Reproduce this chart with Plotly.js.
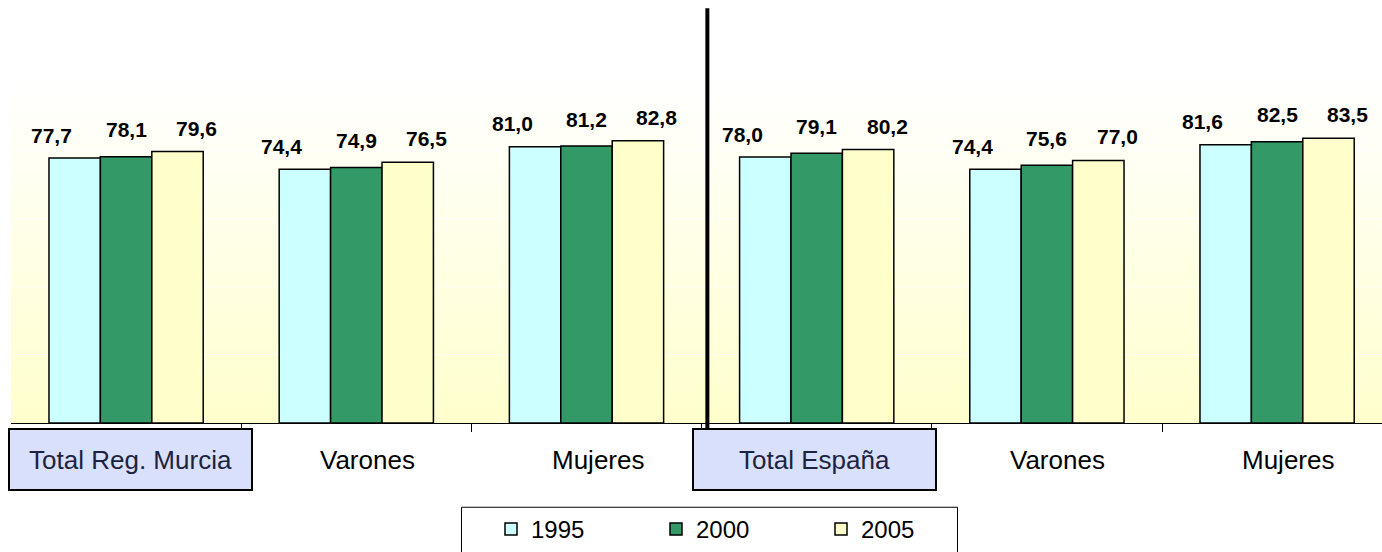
<!DOCTYPE html>
<html>
<head>
<meta charset="utf-8">
<script src="https://cdn.plot.ly/plotly-3.0.1.min.js"></script>
<style>
  html, body { margin: 0; padding: 0; background: #ffffff; }
  #wrap { position: relative; width: 1382px; height: 552px; background: #ffffff; overflow: hidden; }
  #bg { position: absolute; left: 11px; top: 82px; width: 1371px; height: 342px;
        background: linear-gradient(to bottom, #FFFFFF 0%, #FFFFCC 100%); }
  #chart { position: absolute; left: 0; top: 0; width: 1382px; height: 552px; }
</style>
</head>
<body>
<div id="wrap">
  <div id="bg"></div>
  <div id="chart"></div>
</div>
<script>
// ---- data ----
const categories = ['Total Reg. Murcia', 'Varones', 'Mujeres', 'Total España', 'Varones', 'Mujeres'];
const years = ['1995', '2000', '2005'];
const values1995 = [77.7, 74.4, 81.0, 78.0, 74.4, 81.6];
const values2000 = [78.1, 74.9, 81.2, 79.1, 75.6, 82.5];
const values2005 = [79.6, 76.5, 82.8, 80.2, 77.0, 83.5];

// ---- styling ----
const seriesValues = [values1995, values2000, values2005];
const seriesColors = ['#CCFFFF', '#339966', '#FFFFCC'];
const boxedCategories = [0, 3];
const labelXShift = [4, 11, 11, -2, 11, 11];
const valueLabelXShift = [-23, 0, 19];
const valueLabelYShift = [23, 27, 23.5];
const FONT = 'Liberation Sans, Arial, sans-serif';

const W = 1382, H = 552;
const M = { l: 11, r: 0, t: 82, b: 128 };
const plotW = W - M.l - M.r, plotH = H - M.t - M.b;
const catPx = 230.2;
const bargap = 0.33;
const barW = (1 - bargap) / years.length;
const px2paperX = p => (p - M.l) / plotW;
const px2paperY = p => (M.t + plotH - p) / plotH;

const xIdx = categories.map((_, i) => i);

const traces = years.map((yr, s) => ({
  type: 'bar',
  name: yr,
  x: xIdx,
  y: seriesValues[s],
  marker: { color: seriesColors[s], line: { color: '#000000', width: 1.5 } },
  hoverinfo: 'skip'
}));

const annotations = [];
// value labels
years.forEach((yr, s) => {
  seriesValues[s].forEach((v, i) => {
    annotations.push({
      x: i + (s - 1) * barW, xref: 'x',
      y: v, yref: 'y',
      text: '<b>' + v.toFixed(1).replace('.', ',') + '</b>',
      showarrow: false,
      xanchor: 'center', yanchor: 'middle',
      xshift: valueLabelXShift[s],
      yshift: valueLabelYShift[s],
      font: { family: FONT, size: 21, color: '#000000' }
    });
  });
});
// category labels
categories.forEach((c, i) => {
  const boxed = boxedCategories.includes(i);
  const a = {
    x: i, xref: 'x',
    y: px2paperY(461), yref: 'paper',
    text: c,
    showarrow: false,
    xanchor: 'center', yanchor: 'middle',
    xshift: labelXShift[i],
    font: { family: FONT, size: 26, color: boxed ? '#1C2340' : '#000000' }
  };
  if (boxed) {
    a.bgcolor = '#D9E0FB';
    a.bordercolor = '#000000';
    a.borderwidth = 2;
    a.borderpad = 0;
    a.width = 241;
    a.height = 59;
  }
  annotations.push(a);
});

const layout = {
  width: W, height: H,
  margin: M,
  paper_bgcolor: 'rgba(0,0,0,0)',
  plot_bgcolor: 'rgba(0,0,0,0)',
  font: { family: FONT, size: 20, color: '#000000' },
  barmode: 'group',
  bargap: bargap,
  bargroupgap: 0,
  showlegend: true,
  legend: {
    orientation: 'h',
    x: px2paperX(491), xanchor: 'left',
    y: px2paperY(508), yanchor: 'top',
    bgcolor: 'rgba(0,0,0,0)',
    borderwidth: 0,
    entrywidth: 120,
    entrywidthmode: 'pixels',
    traceorder: 'normal',
    font: { family: FONT, size: 24, color: '#000000' }
  },
  xaxis: {
    range: [-0.5, -0.5 + plotW / catPx],
    tickmode: 'array',
    tickvals: [0.5, 1.5, 2.5, 3.5, 4.5],
    ticks: 'outside', ticklen: 8, tickwidth: 1, tickcolor: '#000000',
    showticklabels: false,
    showgrid: false, zeroline: false,
    showline: true, linecolor: '#000000', linewidth: 1,
    fixedrange: true
  },
  yaxis: {
    range: [0, 100],
    dtick: 20,
    showgrid: true, gridcolor: 'rgba(255,255,255,0.7)', gridwidth: 1,
    showticklabels: false, zeroline: false, showline: false, ticks: '',
    fixedrange: true
  },
  shapes: [
    {
      type: 'line', xref: 'x', yref: 'paper',
      x0: 2.525, x1: 2.525,
      y0: px2paperY(430), y1: px2paperY(8),
      line: { color: '#000000', width: 4 },
      layer: 'above'
    },
    {
      type: 'rect', xref: 'paper', yref: 'paper',
      x0: px2paperX(461.5), x1: px2paperX(957.5),
      y0: px2paperY(508.5), y1: px2paperY(575),
      line: { color: '#000000', width: 1 },
      fillcolor: 'rgba(0,0,0,0)',
      layer: 'above'
    }
  ],
  annotations: annotations
};

Plotly.newPlot('chart', traces, layout, { displayModeBar: false, staticPlot: true });
</script>
</body>
</html>
